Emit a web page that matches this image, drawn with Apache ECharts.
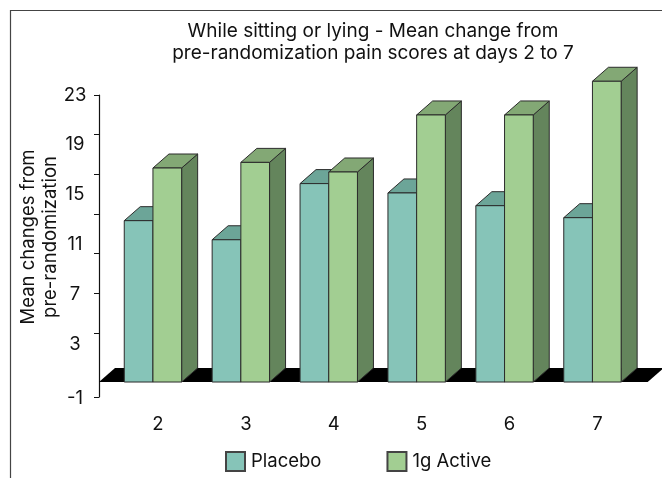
<!DOCTYPE html>
<html><head><meta charset="utf-8">
<style>html,body{margin:0;padding:0;background:#fff}#c{width:662px;height:478px}</style>
<script src="https://cdn.jsdelivr.net/npm/echarts@6/dist/echarts.min.js"></script>
</head><body><div id="c"></div>
<script>
const categories = ['2','3','4','5','6','7'];
const placebo = [12.93,11.4,15.9,15.15,14.13,13.17];
const active = [17.15,17.6,16.83,21.4,21.4,24.1];
const yLabelValues = [-1,3,7,11,15,19,23];
const yTickValues = [-1.2,3.93,7.1,10.28,13.46,16.64,19.82,23];
const titleText = 'While sitting or lying - Mean change from\npre-randomization pain scores at days 2 to 7';
const yName = 'Mean changes from\npre-randomization';
const FONT = 'Inter';
const FS = 18.5;
const chart = echarts.init(document.getElementById('c'), null, {renderer:'canvas'});
const DX = 16, DY = 14, STROKE = '#2b2b2b';
function barRenderer(side, front, top, dark){
  return function(params, api){
    const cat = api.value(0), p = api.coord([cat, api.value(1)]), base = api.coord([cat, 0]);
    const w = api.size([1,0])[0] * 0.3265;
    const x0 = side < 0 ? p[0] - w : p[0], x1 = x0 + w, y0 = p[1], y1 = base[1];
    const ls = {stroke: STROKE, lineWidth: 1};
    return {type:'group', children:[
      {type:'polygon', shape:{points:[[x1,y1],[x1+DX,y1-DY],[x1+DX,y0-DY],[x1,y0]]}, style:Object.assign({fill:dark},ls)},
      {type:'polygon', shape:{points:[[x0,y0],[x0+DX,y0-DY],[x1+DX,y0-DY],[x1,y0]]}, style:Object.assign({fill:top},ls)},
      {type:'rect', shape:{x:x0,y:y0,width:w,height:y1-y0}, style:Object.assign({fill:front},ls)}
    ]};
  };
}
function floorRenderer(params, api){
  const a = api.coord([0,0]), b = api.coord([categories.length-1,0]), band = api.size([1,0])[0];
  const l = a[0]-band/2-10, r = b[0]+band/2+11.3, y = a[1];
  return {type:'polygon', shape:{points:[[l,y],[l+DX,y-DY],[r+DX,y-DY],[r,y]]}, style:{fill:'#000'}};
}
chart.setOption({
  animation:false,
  backgroundColor:'#fff',
  textStyle:{fontFamily:FONT,color:'#111'},
  title:{text:titleText,left:368,top:15,textAlign:'center',textStyle:{fontFamily:FONT,fontSize:19,fontWeight:'normal',color:'#111',lineHeight:22}},
  legend:{left:220,top:446,itemWidth:19,itemHeight:19,itemGap:65,icon:'rect',selectedMode:false,
    textStyle:{fontFamily:FONT,fontSize:FS,color:'#111',padding:[0,0,0,1]},
    data:['Placebo','1g Active']},
  grid:{left:109,top:95,width:527.4,height:302,outerBoundsMode:'none'},
  xAxis:{type:'category',data:categories,axisLine:{show:false},axisTick:{show:false},
    axisLabel:{fontSize:FS,color:'#111',margin:18,padding:[0,0,0,10],fontFamily:FONT}},
  yAxis:{type:'value',min:-1.2,max:23,offset:10,splitLine:{show:false},
    name:yName,nameLocation:'middle',nameRotate:90,nameGap:38,nameMoveOverlap:false,
    nameTextStyle:{fontFamily:FONT,fontSize:FS,color:'#111',lineHeight:22,padding:[0,0,0,18]},
    axisLine:{show:true,onZero:false,lineStyle:{color:'#111',width:1.2}},
    axisTick:{show:true,length:5,lineStyle:{color:'#111',width:1},customValues:yTickValues},
    axisLabel:{fontSize:FS,color:'#111',align:'center',margin:24,customValues:yLabelValues,fontFamily:FONT,
      formatter:v=>v===-1?'{low|-1}':String(v),
      rich:{low:{fontSize:FS,fontFamily:FONT,color:'#111',padding:[8,0,0,0]}}}},
  graphic:[{type:'polyline',silent:true,shape:{points:[[10.5,478],[10.5,10.5],[662,10.5]]},style:{stroke:'#444',lineWidth:1.2,fill:null}}],
  series:[
    {type:'custom',name:'floor',renderItem:floorRenderer,data:[[0,0]],clip:false,silent:true,z:1},
    {type:'custom',name:'Placebo',renderItem:barRenderer(-1,'#86c4b8','#6ca598','#5a8a80'),clip:false,z:2,
      itemStyle:{color:'#86c4b8',borderColor:'#444',borderWidth:1},
      data:placebo.map((v,i)=>[i,v])},
    {type:'custom',name:'1g Active',renderItem:barRenderer(1,'#a2ce92','#83a875','#64855c'),clip:false,z:3,
      itemStyle:{color:'#a2ce92',borderColor:'#444',borderWidth:1},
      data:active.map((v,i)=>[i,v])}
  ]
});
</script></body></html>
